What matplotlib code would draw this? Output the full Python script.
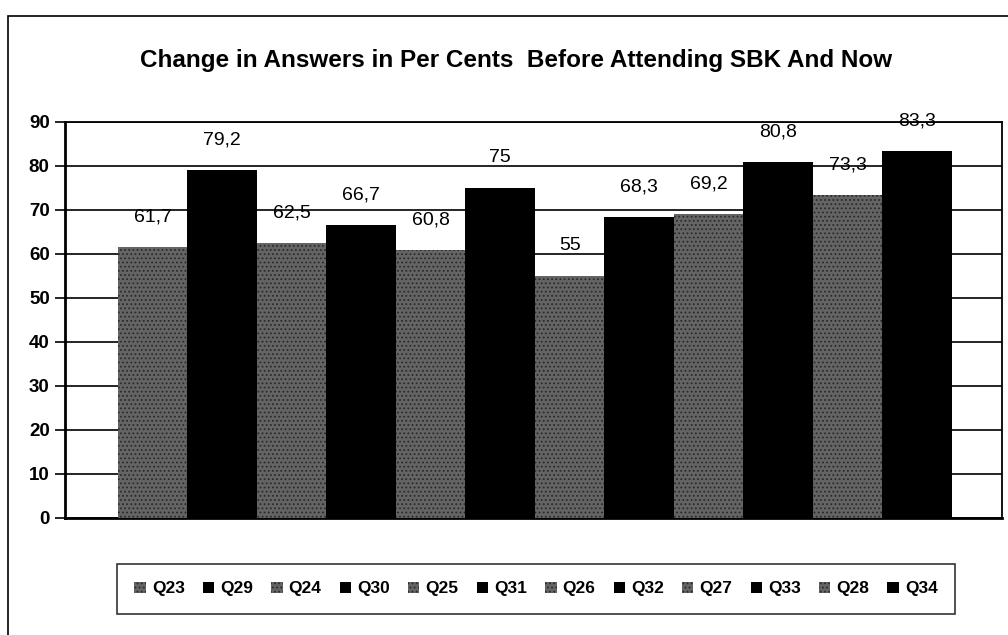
import matplotlib.pyplot as plt
from matplotlib.patches import Rectangle

questions = ['Q23', 'Q29', 'Q24', 'Q30', 'Q25', 'Q31', 'Q26', 'Q32', 'Q27', 'Q33', 'Q28', 'Q34']
values = [61.7, 79.2, 62.5, 66.7, 60.8, 75, 55, 68.3, 69.2, 80.8, 73.3, 83.3]

plt.rcParams['font.family'] = ['Liberation Sans', 'DejaVu Sans']
plt.rcParams['hatch.linewidth'] = 0.8

fig = plt.figure(figsize=(10.08, 6.35), dpi=100)
ax = fig.add_axes([65 / 1008, 1 - 518 / 635, 937 / 1008, 396 / 635])

# outer chart frame
fig.patches.append(Rectangle((8 / 1008, -0.05), 1.1, 1.05 - 16 / 635,
                             transform=fig.transFigure, fill=False,
                             edgecolor='black', linewidth=1.2))

for i, (q, v) in enumerate(zip(questions, values)):
    if i % 2 == 0:
        ax.bar(i, v, width=1.0, color='#646464', hatch='....',
               edgecolor='#2a2a2a', linewidth=0, label=q, zorder=3)
    else:
        ax.bar(i, v, width=1.0, color='black', linewidth=0, label=q, zorder=3)
    ax.annotate(str(v).replace('.', ','), (i, v), xytext=(0, 30),
                textcoords='offset pixels', ha='center', va='center',
                fontsize=14, zorder=4)

ax.set_xlim(-1.26, 12.22)
ax.set_ylim(0, 90)
ax.set_yticks(range(0, 91, 10))
ax.set_xticks([])
ax.yaxis.grid(True, color='black', linewidth=1.2, zorder=1)
ax.tick_params(axis='y', length=7, width=1.2, labelsize=13.5, pad=4)
for lab in ax.get_yticklabels():
    lab.set_fontweight('bold')
for s in ax.spines.values():
    s.set_linewidth(1.3)
ax.spines['bottom'].set_linewidth(2)
ax.spines['left'].set_linewidth(2)

fig.text(0.512, 1 - 60 / 635, 'Change in Answers in Per Cents  Before Attending SBK And Now',
         ha='center', va='center', fontsize=17.5, fontweight='bold')

leg = fig.legend(loc='center', bbox_to_anchor=(536 / 1008, 1 - 589 / 635), ncol=12,
                 frameon=True, fancybox=False, edgecolor='black',
                 handlelength=0.65, handleheight=0.65, handletextpad=0.35,
                 columnspacing=1.05, borderpad=1.0, borderaxespad=0,
                 prop={'weight': 'bold', 'size': 12.5})
leg.get_frame().set_linewidth(1.2)

fig.savefig('out.png', dpi=100)
